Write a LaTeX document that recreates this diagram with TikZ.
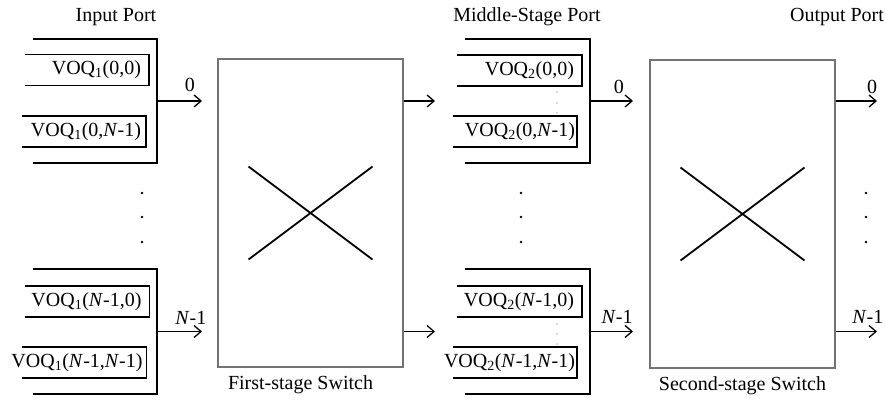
\documentclass[tikz,border=0pt]{standalone}
\usepackage{fontspec}
\setmainfont{Liberation Serif}
\usetikzlibrary{arrows.meta, positioning}
\newcommand{\bigfont}{\fontsize{20}{24}\selectfont}
\tikzset{
  portframe/.style = {minimum width=124pt, minimum height=124pt, inner sep=0pt},
  queue/.style = {minimum width=124pt, minimum height=31pt, inner sep=0pt},
  qtext/.style = {anchor=east, inner sep=0pt, font=\bigfont},
  switchbox/.style = {draw=black!55, line width=1.3pt, minimum width=185pt,
    minimum height=308pt, inner sep=0pt},
  bracket/.style = {line width=1.8pt},
  qline/.style = {line width=1.5pt},
  arr/.style = {-{Straight Barb[length=7pt, width=12pt]}, line width=1.3pt},
  lbl/.style = {anchor=south, inner sep=0pt, yshift=#1, font=\bigfont},
  lbl/.default = 9pt,
  hdr/.style = {anchor=base, font=\bigfont},
  swlbl/.style = {inner sep=0pt, font=\bigfont},
  xline/.style = {line width=1.8pt},
}

\begin{document}
\begin{tikzpicture}[x=1pt, y=1pt]
  \useasboundingbox (0,0) rectangle (885,-399);

  %% headers
  \node[hdr] (hin)  at (116,-21) {Input Port};
  \node[hdr] (hmid) at (527,-21) {Middle-Stage Port};
  \node[hdr] (hout) at (837,-21) {Output Port};

  %% input ports
  \node[portframe] (p1a) at (95,-101) {};
  \node[portframe] (p1b) at (95,-331.5) {};
  \node[queue] (q1a) at (87,-70) {};
  \node[queue] (q1b) at (84,-131.5) {};
  \node[queue] (q1c) at (87.5,-301.5) {};
  \node[queue] (q1d) at (84.5,-362.5) {};
  \node[qtext] (t1a) at ([xshift=-8pt]q1a.east) {VOQ\textsubscript{1}(0,0)};
  \node[qtext] (t1b) at ([xshift=-5pt]q1b.east) {VOQ\textsubscript{1}(0,\textit{N}-1)};
  \node[qtext] (t1c) at ([xshift=-8pt]q1c.east) {VOQ\textsubscript{1}(\textit{N}-1,0)};
  \node[qtext] (t1d) at ([xshift=-4pt]q1d.east) {VOQ\textsubscript{1}(\textit{N}-1,\textit{N}-1)};

  %% middle-stage ports
  \node[portframe, minimum width=125pt] (p2a) at (527.5,-101) {};
  \node[portframe, minimum width=125pt] (p2b) at (527.5,-331.5) {};
  \node[queue, minimum width=125pt] (q2a) at (519.5,-70.5) {};
  \node[queue] (q2b) at (515,-131.5) {};
  \node[queue, minimum width=125pt] (q2c) at (519.5,-301.5) {};
  \node[queue] (q2d) at (515,-362.5) {};
  \node[qtext] (t2a) at ([xshift=-8pt]q2a.east) {VOQ\textsubscript{2}(0,0)};
  \node[qtext] (t2b) at ([xshift=-2pt]q2b.east) {VOQ\textsubscript{2}(0,\textit{N}-1)};
  \node[qtext] (t2c) at ([xshift=-8pt]q2c.east) {VOQ\textsubscript{2}(\textit{N}-1,0)};
  \node[qtext] (t2d) at ([xshift=-2pt]q2d.east) {VOQ\textsubscript{2}(\textit{N}-1,\textit{N}-1)};

  \foreach \n in {p1a,p1b,p2a,p2b}
    \draw[bracket] (\n.north west) -- (\n.north east) -- (\n.south east) -- (\n.south west);
  \foreach \n in {q1a,q1b,q1c,q1d,q2a,q2b,q2c,q2d}
    \draw[qline] (\n.north west) -- (\n.north east) -- (\n.south east) -- (\n.south west);

  %% switches
  \node[switchbox] (sw1) at (310.5,-213) {};
  \node[switchbox] (sw2) at (742.5,-214) {};
  \node[swlbl, below=8pt of sw1, xshift=-10pt] (l1) {First-stage Switch};
  \node[swlbl, below=8pt of sw2] (l2) {Second-stage Switch};
  \foreach \s in {sw1,sw2} {
    \draw[xline] ([shift={(-62,46.5)}]\s.center) -- ([shift={(62,-46.5)}]\s.center);
    \draw[xline] ([shift={(-62,-46.5)}]\s.center) -- ([shift={(62,46.5)}]\s.center);
  }

  %% arrow ends
  \coordinate (in0) at (202,-101);
  \coordinate (in1) at (202,-331.5);
  \coordinate (mi0) at (435,-101);
  \coordinate (mi1) at (435,-331.5);
  \coordinate (mo0) at (633,-101);
  \coordinate (mo1) at (633,-331.5);
  \coordinate (out0) at (877,-101);
  \coordinate (out1) at (877,-331.5);

  \draw[arr] (p1a.east) -- node[lbl, pos=0.73]{0} (in0);
  \draw[arr] (p1b.east) -- node[lbl=6pt, pos=0.75]{\textit{N}-1} (in1);
  \draw[arr] (sw1.east |- p1a.east) -- (mi0);
  \draw[arr] (sw1.east |- p1b.east) -- (mi1);
  \draw[arr] (p2a.east) -- node[lbl=7pt, pos=0.67]{0} (mo0);
  \draw[arr] (p2b.east) -- node[lbl=7pt, pos=0.63]{\textit{N}-1} (mo1);
  \draw[arr] (sw2.east |- p2a.east) -- node[lbl=7pt, pos=0.88]{0} (out0);
  \draw[arr] (sw2.east |- p2b.east) -- node[lbl=7pt, pos=0.78]{\textit{N}-1} (out1);

  %% dots
  \foreach \x in {142,521,866}
    \foreach \y in {193,217,242}
      \fill (\x,-\y) circle (1.4pt);
  \foreach \y in {92,103,113,324,334,344}
    \fill[black!60] (557,-\y) circle (0.7pt);

\end{tikzpicture}
\end{document}
